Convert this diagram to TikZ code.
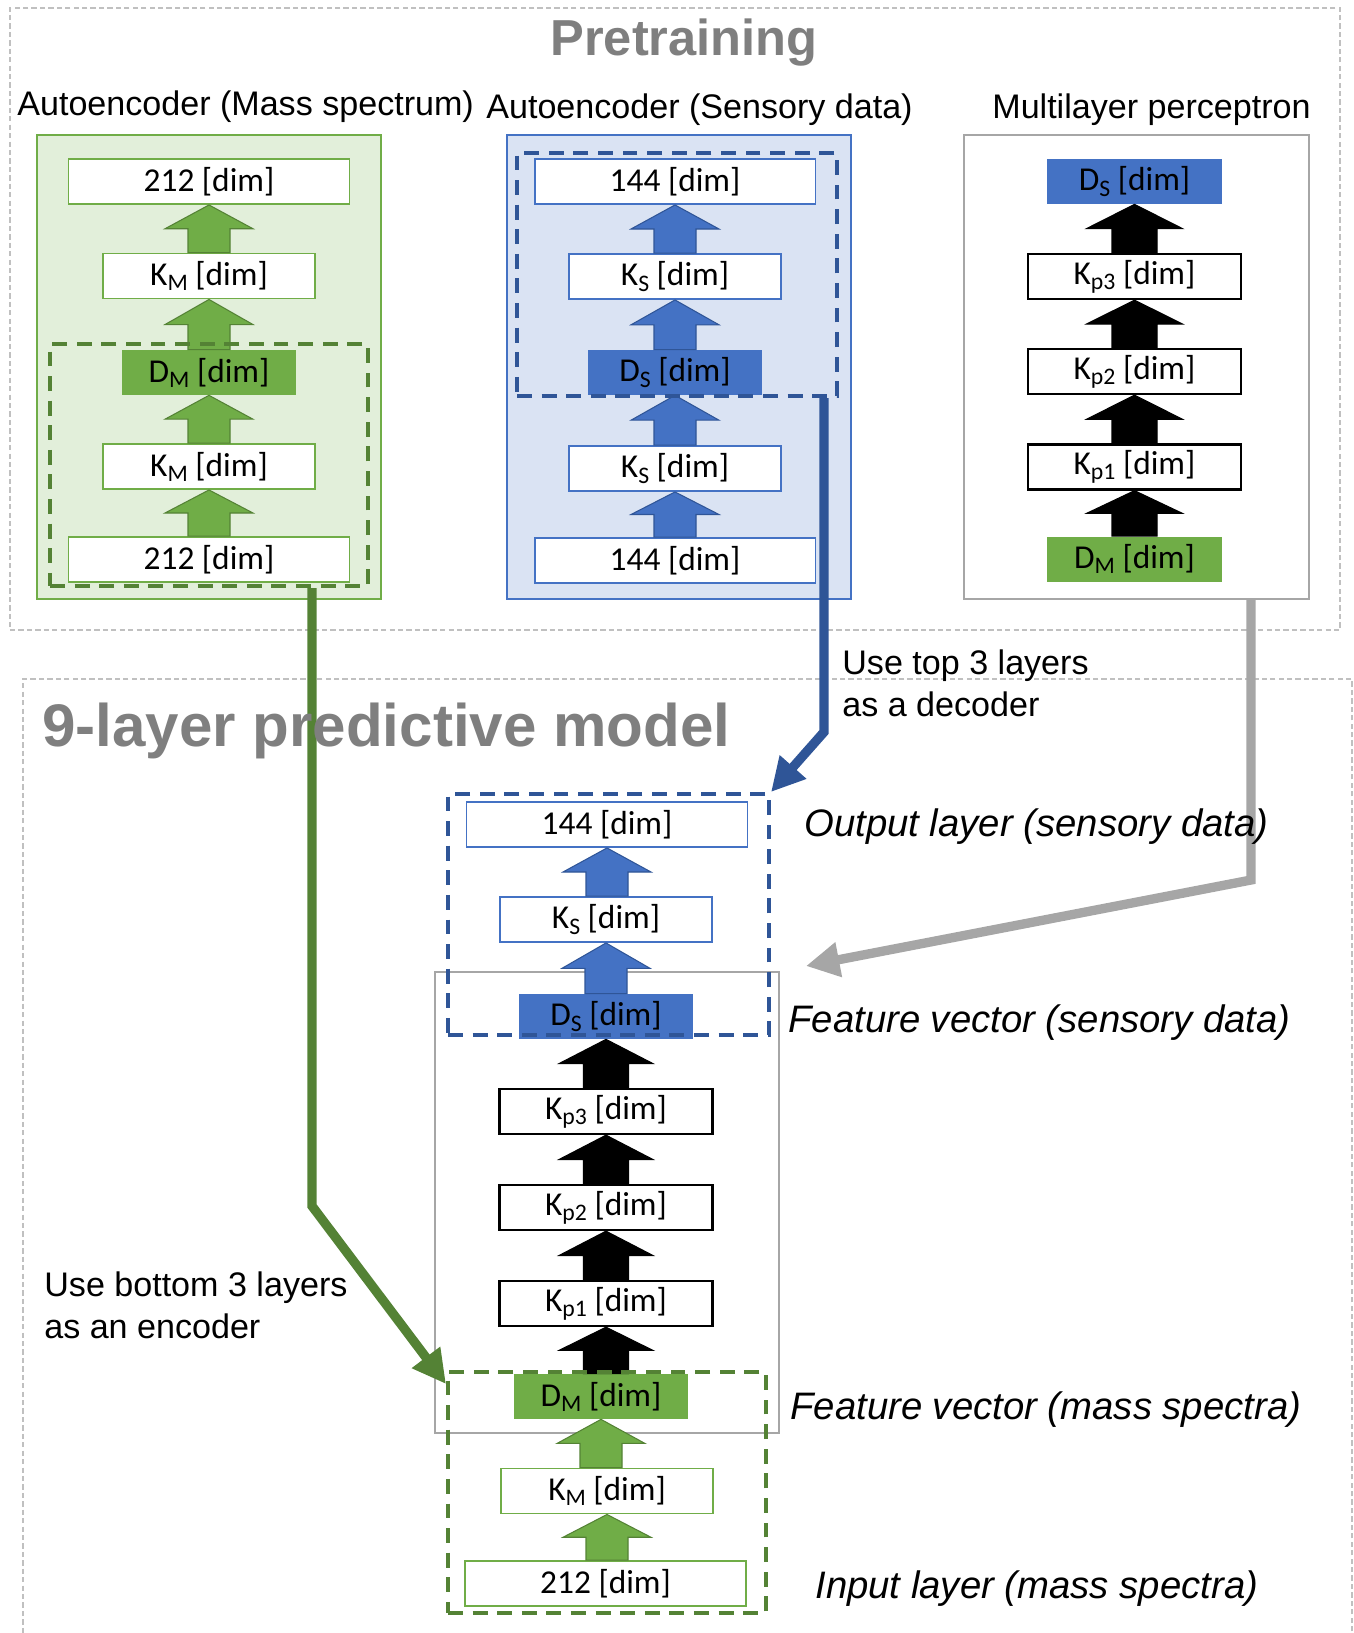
\documentclass[tikz,border=0pt]{standalone}
\usepackage{fontspec}
\setmainfont{Liberation Sans}
\newfontfamily\calib{Carlito}
\usetikzlibrary{calc,arrows.meta,fit}
\definecolor{gfill}{HTML}{70AD47}
\definecolor{gdark}{HTML}{548235}
\definecolor{gbg}{HTML}{E2EFDA}
\definecolor{bfill}{HTML}{4472C4}
\definecolor{bdark}{HTML}{2F5597}
\definecolor{bbg}{HTML}{DAE3F3}
\definecolor{lgray}{HTML}{A6A6A6}
\definecolor{ogray}{HTML}{C0C0C0}
\definecolor{tgray}{HTML}{7F7F7F}
\newcommand\lsub[1]{\raisebox{-0.32ex}{\fontsize{13.5}{13.5}\selectfont #1}}
% block arrow from lower node #1 up to upper node #2
\newcommand\blockarr[5]{%
  \path (#2.south |- #1.north) coordinate (pa) (#2.south) coordinate (pb);
  \path ($(pa)!0.5!(pb)$) coordinate (pm);
  \filldraw[#3] ($(pa)+(-#4,0)$) -- ($(pm)+(-#4,0)$) -- ($(pm)+(-#5,0)$) -- (pb)
     -- ($(pm)+(#5,0)$) -- ($(pm)+(#4,0)$) -- ($(pa)+(#4,0)$) -- cycle;}
\begin{document}
\begin{tikzpicture}[x=0.02cm,y=-0.02cm,
  lbl/.style={font=\calib\fontsize{19}{19}\selectfont, inner sep=0pt, minimum height=0.9cm, text=black},
  wide/.style={minimum width=5.62cm},
  mid/.style={minimum width=4.24cm},
  narrow/.style={minimum width=3.5cm},
  gwhite/.style={lbl, draw=gfill, fill=white, line width=1.1pt},
  bwhite/.style={lbl, draw=bfill, fill=white, line width=1.1pt},
  kwhite/.style={lbl, draw=black, fill=white, line width=1.3pt, minimum width=4.26cm},
  gsolid/.style={lbl, fill=gfill, narrow},
  bsolid/.style={lbl, fill=bfill, narrow},
  garr/.style={fill=gfill, draw=gdark, line width=0.6pt},
  barr/.style={fill=bfill, draw=bdark, line width=0.6pt},
  karr/.style={fill=black, draw=black, line width=0.6pt},
  area/.style={inner sep=0pt, line width=1.1pt},
  gdashed/.style={inner sep=0pt, draw=gdark, line width=2.3pt, dash pattern=on 8.5pt off 5.5pt},
  bdashed/.style={inner sep=0pt, draw=bdark, line width=2.3pt, dash pattern=on 8.5pt off 5.5pt},
  outerdash/.style={inner sep=0pt, draw=ogray, line width=0.9pt, dash pattern=on 3pt off 1.8pt},
  conn/.style={line width=5.3pt, -{Triangle[length=19pt,width=19pt]}},
  gconn/.style={conn, draw=gdark},
  bconn/.style={conn, draw=bdark},
  kconn/.style={conn, draw=lgray},
  sect/.style={font=\fontsize{19.4}{19.4}\selectfont, inner sep=0pt, anchor=base west},
  ital/.style={font=\itshape\fontsize{21.8}{21.8}\selectfont, inner sep=0pt, anchor=base west},
  note/.style={font=\fontsize{19.4}{23.4}\selectfont, inner sep=0pt, align=left, anchor=base west},
  bigtitle/.style={font=\bfseries, text=tgray, inner sep=0pt},
]
\useasboundingbox (0,0) rectangle (1354,1633);

% outer dashed regions
\node[outerdash, fit={(10,8) (1340,630)}] (pre) {};
\node[outerdash, fit={(23,679) (1352,1660)}] (nine) {};

% pretraining background boxes
\node[area, draw=gfill, fill=gbg, fit={(37,135) (381,599)}] (gae) {};
\node[area, draw=bfill, fill=bbg, fit={(507,135) (851,599)}] (bae) {};
\node[area, draw=lgray, line width=1.4pt, fit={(964,135) (1309,599)}] (mlp) {};

% 9-layer gray box
\node[area, draw=lgray, line width=1.2pt, fit={(435,972) (779,1433)}] (fbox) {};

% ---- Autoencoder (mass spectrum)
\node[gwhite, wide] (g5) at (209,181.5) {212 [dim]};
\node[gwhite, mid]  (g4) at (209,276) {K\lsub{M} [dim]};
\node[gsolid]       (g3) at (209,372.5) {D\lsub{M} [dim]};
\node[gwhite, mid]  (g2) at (209,466.5) {K\lsub{M} [dim]};
\node[gwhite, wide] (g1) at (209,559.5) {212 [dim]};

% ---- Autoencoder (sensory data)
\node[bwhite, wide] (b5) at (675,181.5) {144 [dim]};
\node[bwhite, mid]  (b4) at (675,276.5) {K\lsub{S} [dim]};
\node[bsolid]       (b3) at (675,372.5) {D\lsub{S} [dim]};
\node[bwhite, mid]  (b2) at (675,468.5) {K\lsub{S} [dim]};
\node[bwhite, wide] (b1) at (675,560.5) {144 [dim]};

% ---- Multilayer perceptron
\node[bsolid]  (m5) at (1134.5,181.5) {D\lsub{S} [dim]};
\node[kwhite]  (m4) at (1134.5,276.5) {K\lsub{p3} [dim]};
\node[kwhite]  (m3) at (1134.5,371.5) {K\lsub{p2} [dim]};
\node[kwhite]  (m2) at (1134.5,467) {K\lsub{p1} [dim]};
\node[gsolid]  (m1) at (1134.5,559) {D\lsub{M} [dim]};

% ---- 9-layer predictive model
\node[bwhite, wide] (n9) at (607,824.5) {144 [dim]};
\node[bwhite, mid]  (n8) at (606,919.5) {K\lsub{S} [dim]};
\node[bsolid]       (n7) at (606,1016.5) {D\lsub{S} [dim]};
\node[kwhite]       (n6) at (606,1111.5) {K\lsub{p3} [dim]};
\node[kwhite]       (n5) at (606,1207.5) {K\lsub{p2} [dim]};
\node[kwhite]       (n4) at (606,1303.5) {K\lsub{p1} [dim]};
\node[gsolid]       (n3) at (601,1396.5) {D\lsub{M} [dim]};
\node[gwhite, mid]  (n2) at (607,1491) {K\lsub{M} [dim]};
\node[gwhite, wide] (n1) at (605.5,1583.5) {212 [dim]};

% block arrows
\blockarr{g1}{g2}{garr}{21}{44}
\blockarr{g2}{g3}{garr}{21}{44}
\blockarr{g3}{g4}{garr}{21}{44}
\blockarr{g4}{g5}{garr}{21}{44}
\blockarr{b1}{b2}{barr}{21}{44}
\blockarr{b2}{b3}{barr}{21}{44}
\blockarr{b3}{b4}{barr}{21}{44}
\blockarr{b4}{b5}{barr}{21}{44}
\blockarr{m1}{m2}{karr}{22.5}{48}
\blockarr{m2}{m3}{karr}{22.5}{48}
\blockarr{m3}{m4}{karr}{22.5}{48}
\blockarr{m4}{m5}{karr}{22.5}{48}
\blockarr{n1}{n2}{garr}{21}{44}
\blockarr{n2}{n3}{garr}{21}{44}
\blockarr{n3}{n4}{karr}{22.5}{47}
\blockarr{n4}{n5}{karr}{22.5}{47}
\blockarr{n5}{n6}{karr}{22.5}{47}
\blockarr{n6}{n7}{karr}{22.5}{47}
\blockarr{n7}{n8}{barr}{21}{44}
\blockarr{n8}{n9}{barr}{21}{44}

% dashed groupings
\node[gdashed, fit={(50,344) (368,586)}] (gdA) {};
\node[bdashed, fit={(517,153) (837,396)}] (bdA) {};
\node[bdashed, fit={(448,794) (769,1035)}] (bdB) {};
\node[gdashed, fit={(448,1372) (766,1613)}] (gdB) {};

% connectors
\coordinate (gbend) at (312,1206);
\coordinate (gtip) at (446,1384);
\draw[gconn] (gdA.south -| gbend) -- (gbend) -- (gtip);
\coordinate (bbend) at (824,732);
\draw[bconn] (bdA.south -| bbend) -- (bbend) -- (bdB.north east);
\coordinate (kbend) at (1251,880);
\coordinate (ktip) at (806,966);
\draw[kconn] (mlp.south -| kbend) -- (kbend) -- (ktip);

% titles and labels
\node[bigtitle, font=\bfseries\fontsize{28.8}{28.8}\selectfont, anchor=base] (tpre) at (684,55) {Pretraining};
\node[bigtitle, font=\bfseries\fontsize{34.2}{34.2}\selectfont, anchor=base west] (tnine) at (42,746) {9-layer predictive model};
\node[sect] (s1) at (17,115) {Autoencoder (Mass spectrum)};
\node[sect] (s2) at (486,118) {Autoencoder (Sensory data)};
\node[sect] (s3) at (992,118) {Multilayer perceptron};
\node[note] (u1) at (842,716) {Use top 3 layers\\as a decoder};
\node[note] (u2) at (44,1338) {Use bottom 3 layers\\as an encoder};
\node[ital] (i1) at (804,836) {Output layer (sensory data)};
\node[ital] (i2) at (788,1032) {Feature vector (sensory data)};
\node[ital] (i3) at (790,1419) {Feature vector (mass spectra)};
\node[ital] (i4) at (815,1598) {Input layer (mass spectra)};
\end{tikzpicture}
\end{document}
